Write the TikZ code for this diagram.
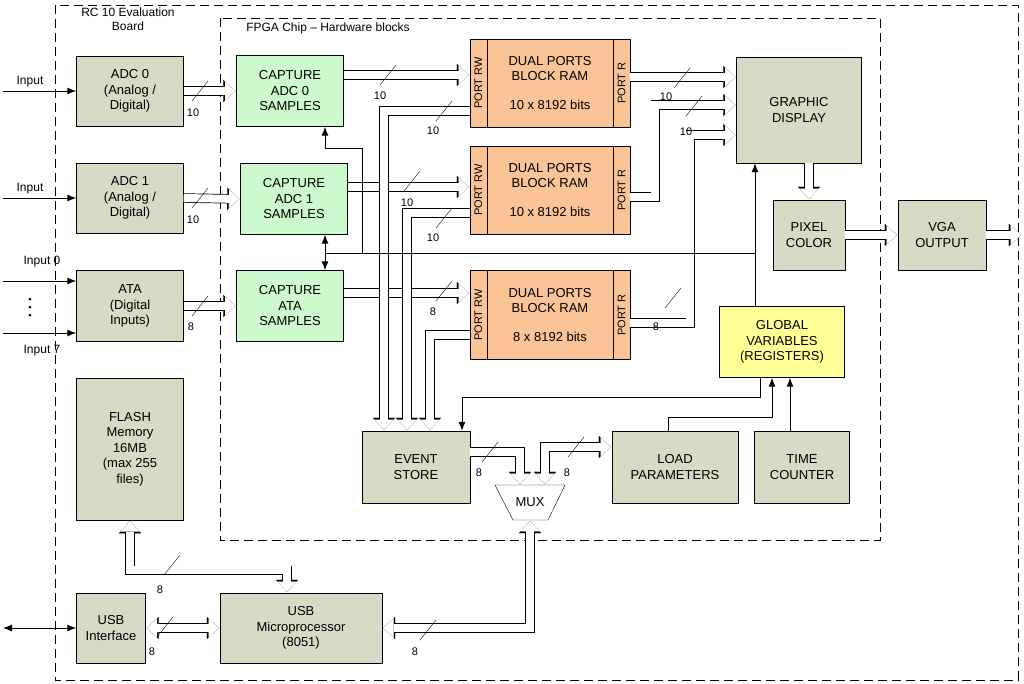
\documentclass[tikz,border=0pt]{standalone}
\usepackage{fontspec}
\setmainfont{Liberation Sans}
\usetikzlibrary{arrows.meta,calc}
\definecolor{boxgrey}{RGB}{214,219,198}
\definecolor{capgreen}{RGB}{204,250,204}
\definecolor{ramorange}{RGB}{250,196,150}
\definecolor{regyellow}{RGB}{255,255,150}
\newcommand{\busmark}[4]{\draw[thin] (#1-8,#2+10) -- (#1+8,#2-10); \node[small] at (#3) {#4};}
\begin{document}
\begin{tikzpicture}[x=1pt,y=-1pt]
    % Styles
        \tikzstyle{block} = [rectangle, draw, fill=boxgrey, align=center, inner sep=0pt, font=\fontsize{13}{15.5}\selectfont]
        \tikzstyle{capture} = [block, fill=capgreen, minimum width=107, minimum height=71]
        \tikzstyle{ram} = [block, fill=ramorange, minimum width=160, minimum height=88]
        \tikzstyle{small} = [font=\fontsize{11}{13}\selectfont, inner sep=0pt]
        \tikzstyle{frame} = [draw, dash pattern=on 9pt off 5pt, line width=0.7pt]
        \tikzstyle{bus} = [preaction={draw=black, line width=9.4pt, -{Triangle[length=12pt, width=22pt, line width=0.01pt]}}, draw=white, line width=8pt, shorten >=1.04pt, -{Triangle[length=10.26pt, width=18.8pt, line width=0.01pt, white]}]
        \tikzstyle{bbus} = [preaction={draw=black, line width=9.4pt, {Triangle[length=12pt, width=22pt, line width=0.01pt]}-{Triangle[length=12pt, width=22pt, line width=0.01pt]}}, draw=white, line width=8pt, shorten >=1.04pt, shorten <=1.04pt, {Triangle[length=10.26pt, width=18.8pt, line width=0.01pt, white]}-{Triangle[length=10.26pt, width=18.8pt, line width=0.01pt, white]}]
        \tikzstyle{line} = [draw, line width=1pt, >={Latex[length=9pt, width=7pt]}]
    \useasboundingbox (0,0) rectangle (1024,683);
    % frames
        \path [frame] (55,5) rectangle (1018,680);
        \path [frame] (220,18) rectangle (880,540);
        \node [align=center, font=\fontsize{12}{14}\selectfont] at (128,19) {RC 10 Evaluation\\Board};
        \node [font=\fontsize{12}{14}\selectfont] at (328,28) {FPGA Chip -- Hardware blocks};
    % board blocks
        \node [block, minimum width=107, minimum height=70] (adc0) at (130,91) {ADC 0\\(Analog /\\Digital)};
        \node [block, minimum width=107, minimum height=70] (adc1) at (130,198) {ADC 1\\(Analog /\\Digital)};
        \node [block, minimum width=107, minimum height=71] (ata) at (130,306) {ATA\\(Digital\\Inputs)};
        \node [block, minimum width=107, minimum height=142] (flash) at (130,449) {FLASH\\Memory\\16MB\\(max 255\\files)};
        \node [block, minimum width=69, minimum height=70] (usbi) at (111,628) {USB\\Interface};
        \node [block, minimum width=162, minimum height=70] (usbm) at (301,628) {USB\\Microprocessor\\(8051)};
        \node [block, minimum width=88, minimum height=70] (vga) at (942,235) {VGA\\OUTPUT};
    % capture column
        \node [capture] (cap0) at (290,91) {CAPTURE\\ADC 0\\SAMPLES};
        \node [capture] (cap1) at (294,199) {CAPTURE\\ADC 1\\SAMPLES};
        \node [capture] (capata) at (290,306) {CAPTURE\\ATA\\SAMPLES};
    % memories
        \node [ram] (ram0) at (550,83) {DUAL PORTS\\BLOCK RAM\\[2ex]10 x 8192 bits};
        \node [ram] (ram1) at (550,190) {DUAL PORTS\\BLOCK RAM\\[2ex]10 x 8192 bits};
        \node [ram, minimum height=89] (ram2) at (550,315) {DUAL PORTS\\BLOCK RAM\\[2ex]8 x 8192 bits};
        \foreach \r in {ram0,ram1,ram2} {
            \draw ([xshift=17pt]\r.north west) -- ([xshift=17pt]\r.south west);
            \draw ([xshift=-17pt]\r.north east) -- ([xshift=-17pt]\r.south east);
            \node [small, rotate=90] at ([xshift=8.5pt]\r.west) {PORT RW};
            \node [small, rotate=90] at ([xshift=-8.5pt]\r.east) {PORT R};
        }
    % right side
        \node [block, minimum width=125, minimum height=106] (disp) at (799,110) {GRAPHIC\\DISPLAY};
        \node [block, minimum width=72, minimum height=70] (pixel) at (809,235) {PIXEL\\COLOR};
        \node [block, fill=regyellow, minimum width=125, minimum height=71] (glob) at (782,342) {GLOBAL\\VARIABLES\\(REGISTERS)};
        \node [block, minimum width=108, minimum height=72] (event) at (416,467) {EVENT\\STORE};
        \node [block, minimum width=126, minimum height=72] (load) at (675,467) {LOAD\\PARAMETERS};
        \node [block, minimum width=95, minimum height=72] (timec) at (802,467) {TIME\\COUNTER};
        \draw [fill=white] (495,485) -- (565,485) -- (548,520) -- (513,520) -- cycle;
        \node [font=\fontsize{13}{15}\selectfont] (mux) at (530,502) {MUX};
        \coordinate (muxa) at (520,485);
        \coordinate (muxb) at (545,485);
        \coordinate (muxc) at (530,520);
    % free ends
        \coordinate (in0) at (3,91);
        \coordinate (in1) at (3,198);
        \coordinate (inA) at (3,281);
        \coordinate (inB) at (3,333);
        \coordinate (ext) at (3,628);
        \coordinate (out) at (1022,235);
        \coordinate (ctrl) at (325,253);
    % inputs
        \path [line, ->] (in0) -- (adc0.west);
        \path [line, ->] (in1) -- (adc1.west);
        \path [line, ->] (inA) -- (inA -| ata.west);
        \path [line, ->] (inB) -- (inB -| ata.west);
        \path [line, <->] (ext) -- (usbi.west);
        \node [font=\fontsize{12}{14}\selectfont] at (30,82) {Input};
        \node [font=\fontsize{12}{14}\selectfont] at (30,189) {Input};
        \node [font=\fontsize{12}{14}\selectfont] at (42,262) {Input 0};
        \node [font=\fontsize{12}{14}\selectfont] at (42,351) {Input 7};
        \foreach \d in {299,307,315} \fill (30,\d) circle (1.5pt);
    % buses
        \path [bus] (adc0.east) -- (cap0.west);
        \path [bus] (adc1.east) -- (cap1.west);
        \path [bus] (ata.east) -- (capata.west);
        \path [bus] ([yshift=16pt]cap0.east) -- ([yshift=16pt]cap0.east -| ram0.west);
        \path [bus] ([yshift=12pt]cap1.east) -- ([yshift=12pt]cap1.east -| ram1.west);
        \path [bus] ([yshift=13pt]capata.east) -- ([yshift=13pt]capata.east -| ram2.west);
        \path [bus] ([yshift=-28pt]ram0.west) -| ([xshift=-32pt]event.north);
        \path [bus] ([yshift=-23pt]ram1.west) -| ([xshift=-9pt]event.north);
        \path [bus] ([yshift=-20pt]ram2.west) -| ([xshift=14pt]event.north);
        \path [bus] ([yshift=6pt]ram0.east) -- ([yshift=6pt]ram0.east -| disp.west);
        \path [bus] ([yshift=-7pt]ram1.east) -- ++(25,0) |- ([yshift=5pt]disp.west);
        \path [bus] ([yshift=-8pt]ram2.east) -- ++(60,0) |- ([yshift=-25pt]disp.west);
        \path [bus] (disp.south -| pixel.north) -- (pixel.north);
        \path [bus] (pixel.east) -- (vga.west);
        \path [bus] (vga.east) -- (out);
        \path [bus] ([yshift=15pt]event.east) -| (muxa);
        \path [bbus] (muxb) |- ([yshift=20pt]load.west);
        \path [bbus] (muxc) |- (usbm.east);
        \path [bbus] (usbi.east) -- (usbm.west);
        \path [bbus] (flash.south) |- ++(157,50) -- ([xshift=-14pt]usbm.north);
    % bus widths
        \busmark{200}{91}{193,113}{10}
        \busmark{200}{198}{193,220}{10}
        \busmark{200}{306}{191,327}{8}
        \busmark{388}{75}{380,96}{10}
        \busmark{412}{181}{407,203}{10}
        \busmark{444}{111}{433,131}{10}
        \busmark{444}{218}{433,238}{10}
        \busmark{444}{291}{433,312}{8}
        \busmark{682}{78}{666,97}{10}
        \busmark{694}{106}{686,132}{10}
        \busmark{673}{298}{656,327}{8}
        \busmark{490}{452}{479,473}{8}
        \busmark{576}{447}{567,473}{8}
        \busmark{172}{565}{160,590}{8}
        \busmark{165}{627}{152,652}{8}
        \busmark{428}{630}{415,652}{8}
    % control lines
        \path [line] (ctrl) -- (755,253);
        \path [line, ->] (glob.north -| 755,0) -- (disp.south -| 755,0);
        \path [line, ->] (362,253) |- (325,148) -- (cap0.south -| ctrl);
        \path [line, <->] (cap1.south -| ctrl) -- (capata.north -| ctrl);
        \path [line, ->] ([xshift=-22pt]glob.south) |- (462,397) -- (event.north -| 462,0);
        \path [line, ->] (load.north -| 668,0) |- (772,417) -- (glob.south -| 772,0);
        \path [line, ->] (timec.north -| 790,0) -- (glob.south -| 790,0);
\end{tikzpicture}
\end{document}
